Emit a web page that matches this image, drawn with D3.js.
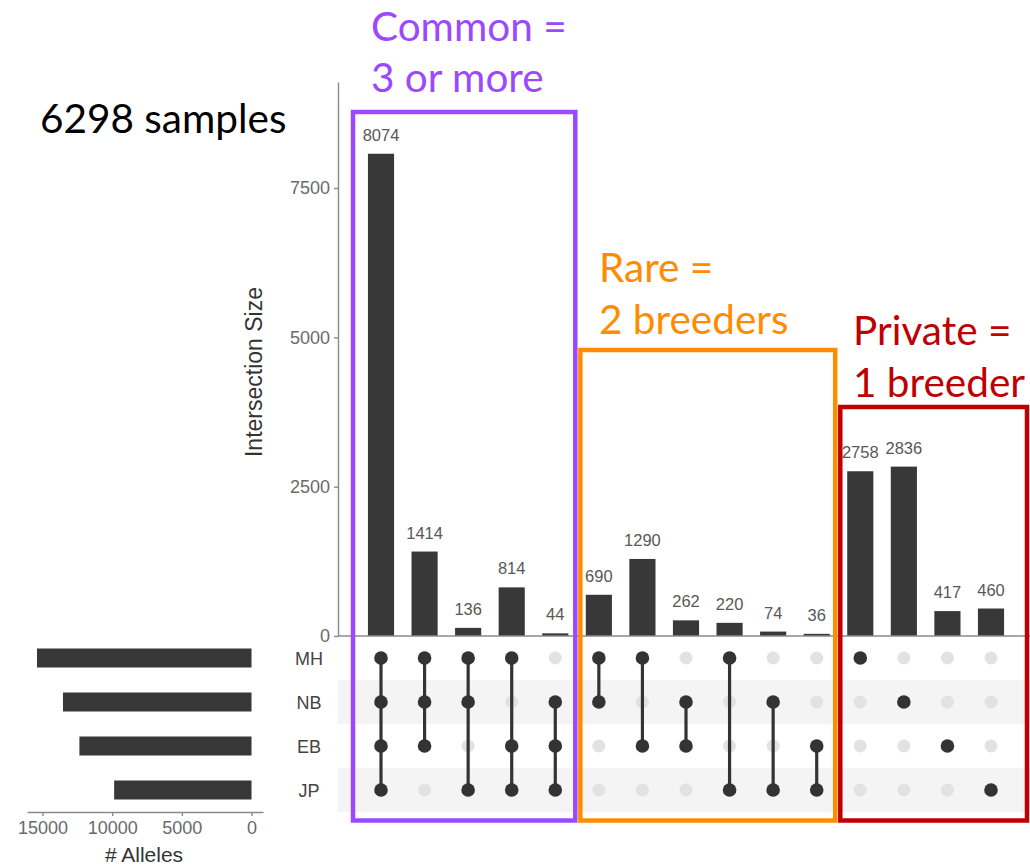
<!DOCTYPE html>
<html><head><meta charset="utf-8">
<script src="https://cdn.jsdelivr.net/npm/d3@7"></script>
<style>body{margin:0;background:#fff} svg{display:block}</style>
</head><body><svg id="c" width="1030" height="868"></svg>
<script>
// ---- data ----
const sets = ["MH", "NB", "EB", "JP"];
const setSizes = [15396, 13530, 12351, 9858];
const intersections = [
  ["MH","NB","EB","JP"], ["MH","NB","EB"], ["MH","NB","JP"], ["MH","EB","JP"], ["NB","EB","JP"],
  ["MH","NB"], ["MH","EB"], ["NB","EB"], ["MH","JP"], ["NB","JP"], ["EB","JP"],
  ["MH"], ["NB"], ["EB"], ["JP"]
];
const counts = [8074, 1414, 136, 814, 44, 690, 1290, 262, 220, 74, 36, 2758, 2836, 417, 460];
const yTicks = [0, 2500, 5000, 7500];
const setTicks = [0, 5000, 10000, 15000];
const groupLabels = [["Common =", "3 or more"], ["Rare =", "2 breeders"], ["Private =", "1 breeder"]];
const groupCols = [[0, 4], [5, 10], [11, 14]];
const sampleNote = "6298 samples";

// ---- layout / style ----
const groupColors = ["#9b49ff", "#ff8c00", "#c00000"];
const barColor = "#383838", dotOn = "#333333", dotOff = "#e2e2e2";
const svg = d3.select("#c");
const chartFont = "'Liberation Sans', Arial, sans-serif";
const noteFont = "Lato, 'Open Sans', sans-serif";
const fmt = d3.format("d");

const x = d3.scaleBand().domain(d3.range(counts.length)).range([350.5, 1021.5]).padding(0.4);
const y = d3.scaleLinear().domain([0, 9275]).range([636, 82]);
const row = d3.scaleBand().domain(sets).range([636, 812]);
const sx = d3.scaleLinear().domain([-825, 16112]).range([263, 27]);

// matrix stripes
svg.append("g").selectAll("rect").data(sets.filter((s, i) => i % 2 === 1)).join("rect")
  .attr("x", 338).attr("width", 1030 - 338)
  .attr("y", d => row(d)).attr("height", row.bandwidth())
  .attr("fill", "#f4f4f4");

// bars
svg.append("g").selectAll("rect").data(counts).join("rect")
  .attr("x", (d, i) => x(i)).attr("width", x.bandwidth())
  .attr("y", d => y(d)).attr("height", d => y(0) - y(d))
  .attr("fill", barColor);

// bar labels
svg.append("g").selectAll("text").data(counts).join("text")
  .attr("x", (d, i) => x(i) + x.bandwidth() / 2)
  .attr("y", d => y(d) - 13)
  .attr("text-anchor", "middle")
  .attr("font-family", chartFont).attr("font-size", 16.5).attr("fill", "#585858")
  .text(d => d);

// y axis
const yAxis = svg.append("g").attr("transform", "translate(338,0)")
  .call(d3.axisLeft(y).tickValues(yTicks).tickFormat(fmt).tickSize(4).tickSizeOuter(0).tickPadding(4));
yAxis.select(".domain").attr("stroke", "#8a8a8a").attr("stroke-width", 1.4);
yAxis.selectAll(".tick line").attr("stroke", "#8a8a8a").attr("stroke-width", 1.4);
yAxis.selectAll(".tick text").attr("font-family", chartFont).attr("font-size", 18).attr("fill", "#6a6a6a");

// x baseline
svg.append("line").attr("x1", 338).attr("x2", 1030).attr("y1", y(0)).attr("y2", y(0))
  .attr("stroke", "#8a8a8a").attr("stroke-width", 1.4);

svg.append("text")
  .attr("transform", `translate(262,${(y(0) + y(9275)) / 2 + 13}) rotate(-90)`)
  .attr("text-anchor", "middle").attr("font-family", chartFont).attr("font-size", 23).attr("fill", "#333")
  .text("Intersection Size");

// matrix: empty dots
const cells = [];
intersections.forEach((inter, i) => sets.forEach(s => cells.push({i, s, on: inter.includes(s)})));
svg.append("g").selectAll("circle").data(cells.filter(c => !c.on)).join("circle")
  .attr("cx", d => x(d.i) + x.bandwidth() / 2).attr("cy", d => row(d.s) + row.bandwidth() / 2)
  .attr("r", 6.5).attr("fill", dotOff);

// connecting lines
svg.append("g").selectAll("line").data(intersections.map((inter, i) => ({i, inter})).filter(d => d.inter.length > 1)).join("line")
  .attr("x1", d => x(d.i) + x.bandwidth() / 2).attr("x2", d => x(d.i) + x.bandwidth() / 2)
  .attr("y1", d => d3.min(d.inter, s => row(s)) + row.bandwidth() / 2)
  .attr("y2", d => d3.max(d.inter, s => row(s)) + row.bandwidth() / 2)
  .attr("stroke", dotOn).attr("stroke-width", 3.2);

svg.append("g").selectAll("circle").data(cells.filter(c => c.on)).join("circle")
  .attr("cx", d => x(d.i) + x.bandwidth() / 2).attr("cy", d => row(d.s) + row.bandwidth() / 2)
  .attr("r", 6.8).attr("fill", dotOn);

// set labels
svg.append("g").selectAll("text").data(sets).join("text")
  .attr("x", 309).attr("y", d => row(d) + row.bandwidth() / 2 + 6.5)
  .attr("text-anchor", "middle").attr("font-family", chartFont).attr("font-size", 18).attr("fill", "#444")
  .text(d => d);

// set size bars
svg.append("g").selectAll("rect").data(setSizes).join("rect")
  .attr("x", d => sx(d)).attr("width", d => sx(0) - sx(d))
  .attr("y", (d, i) => row(sets[i]) + row.bandwidth() / 2 - 9.5).attr("height", 19)
  .attr("fill", barColor);

const sAxis = svg.append("g").attr("transform", "translate(0,812)")
  .call(d3.axisBottom(sx).tickValues(setTicks).tickFormat(fmt).tickSize(4).tickSizeOuter(0).tickPadding(5));
sAxis.select(".domain").attr("stroke", "#8a8a8a").attr("stroke-width", 1.4);
sAxis.selectAll(".tick line").attr("stroke", "#8a8a8a").attr("stroke-width", 1.4);
sAxis.selectAll(".tick text").attr("font-family", chartFont).attr("font-size", 18).attr("fill", "#6a6a6a");

svg.append("text").attr("x", 144).attr("y", 862).attr("text-anchor", "middle")
  .attr("font-family", chartFont).attr("font-size", 21).attr("fill", "#333").text("# Alleles");

// group boxes
const boxGeom = [
  {l: -28, r: 20, top: 112},
  {l: -18.5, r: 18.5, top: 350},
  {l: -20, r: 36, top: 407}
];
const boxBottom = 820.5;
groupCols.forEach(([a, b], g) => {
  const cx0 = x(a) + x.bandwidth() / 2, cx1 = x(b) + x.bandwidth() / 2;
  const bg = boxGeom[g];
  svg.append("rect").attr("x", cx0 + bg.l).attr("y", bg.top)
    .attr("width", (cx1 + bg.r) - (cx0 + bg.l)).attr("height", boxBottom - bg.top)
    .attr("fill", "none").attr("stroke", groupColors[g]).attr("stroke-width", 4.5);
});

const noteSize = 40.5;
const labelPos = [{x: 371, y: [41, 92]}, {x: 599, y: [282, 334]}, {x: 853, y: [345, 397]}];
groupLabels.forEach((lines, g) => {
  lines.forEach((t, k) => {
    svg.append("text").attr("x", labelPos[g].x).attr("y", labelPos[g].y[k])
      .attr("font-family", noteFont).attr("font-size", noteSize).attr("fill", groupColors[g]).text(t);
  });
});
svg.append("text").attr("x", 40).attr("y", 133)
  .attr("font-family", noteFont).attr("font-size", noteSize).attr("fill", "#000").text(sampleNote);
</script></body></html>
